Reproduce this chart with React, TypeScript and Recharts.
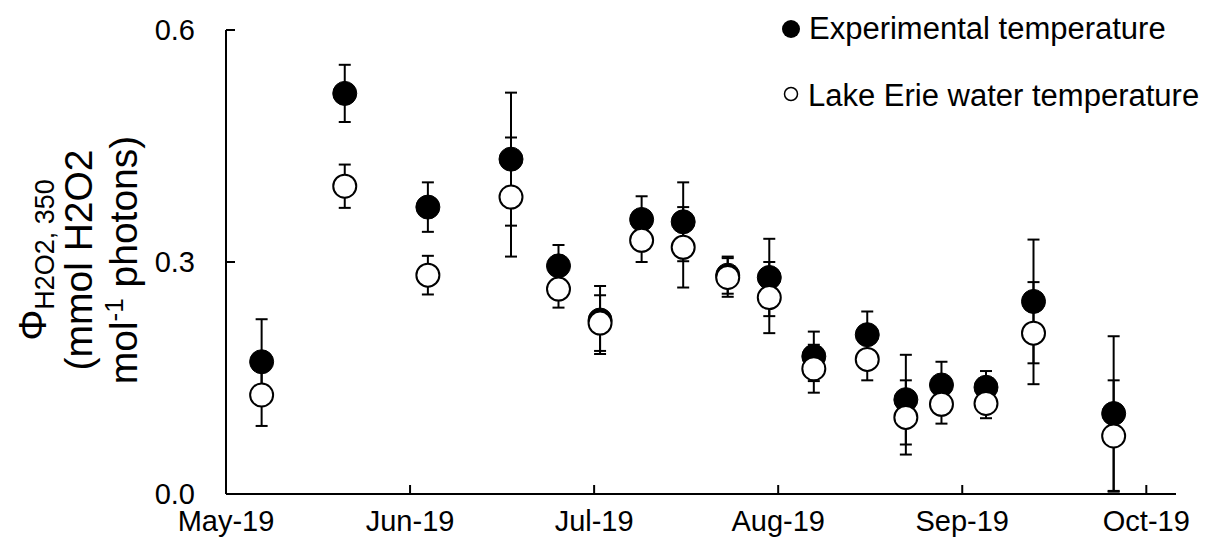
import React from "react";
import { ScatterChart, Scatter, XAxis, YAxis, ErrorBar, Legend } from "recharts";

const FONT = '"Liberation Sans", Arial, sans-serif';

// sampling dates, as days after 1 May 2019
const sampleDays = [6, 20, 34, 48, 56, 63, 70, 77, 84.5, 91.5, 99, 108, 114.5, 120.5, 128, 136, 149.5];

// experimental temperature (filled)
const expValues = [0.171, 0.518, 0.371, 0.433, 0.295, 0.225, 0.355, 0.352, 0.283, 0.28, 0.178, 0.206, 0.122, 0.141, 0.138, 0.249, 0.104];
const expErrors = [0.055, 0.037, 0.032, 0.086, 0.027, 0.044, 0.03, 0.051, 0.024, 0.05, 0.032, 0.03, 0.058, 0.03, 0.021, 0.08, 0.1];

// Lake Erie water temperature (open)
const lakeValues = [0.128, 0.398, 0.283, 0.384, 0.265, 0.221, 0.328, 0.319, 0.28, 0.254, 0.162, 0.174, 0.099, 0.116, 0.117, 0.208, 0.075];
const lakeErrors = [0.04, 0.028, 0.025, 0.077, 0.024, 0.036, 0.028, 0.052, 0.025, 0.046, 0.031, 0.027, 0.048, 0.025, 0.019, 0.066, 0.072];

const xTicks = [0, 31, 62, 93, 124, 155];
const xTickLabels = ["May-19", "Jun-19", "Jul-19", "Aug-19", "Sep-19", "Oct-19"];
const yTicks = [0, 0.3, 0.6];

const seriesNames = ["Experimental temperature", "Lake Erie water temperature"];

const expData = sampleDays.map((d, i) => ({ day: d, value: expValues[i], err: expErrors[i] }));
const lakeData = sampleDays.map((d, i) => ({ day: d, value: lakeValues[i], err: lakeErrors[i] }));

const XTick = (props: any) => {
  const { x, y, payload } = props;
  const idx = xTicks.indexOf(payload.value);
  return (
    <g>
      <line x1={x} x2={x} y1={y} y2={y - 9} stroke="#000" strokeWidth={2} />
      <text x={x} y={y + 37} textAnchor="middle" fontFamily={FONT} fontSize={29} fill="#000">
        {xTickLabels[idx]}
      </text>
    </g>
  );
};

const YTick = (props: any) => {
  const { x, y, payload } = props;
  return (
    <g>
      <line x1={x} x2={x + 9} y1={y} y2={y} stroke="#000" strokeWidth={2} />
      <text x={x - 31} y={y} dy="0.36em" textAnchor="end" fontFamily={FONT} fontSize={29} fill="#000">
        {Number(payload.value).toFixed(1)}
      </text>
    </g>
  );
};

const YLabel = () => {
  const cy = 252;
  return (
    <g fontFamily={FONT} fill="#000">
      <text transform={`translate(38, ${cy}) rotate(-90)`} textAnchor="middle" fontSize={39}>
        Φ<tspan fontSize={27} dy={8}>H2O2, 350</tspan>
      </text>
      <text transform={`translate(84, ${cy}) rotate(-90)`} textAnchor="middle" fontSize={39}>
        (mmol H2O2
      </text>
      <text transform={`translate(129, ${cy}) rotate(-90)`} textAnchor="middle" fontSize={39}>
        mol<tspan fontSize={26} dy={-14}>-1</tspan>
        <tspan dy={14}> photons)</tspan>
      </text>
    </g>
  );
};

const LegendBox = () => (
  <svg width={430} height={115}>
    <circle cx={13} cy={21} r={9} fill="#000" />
    <text x={31} y={31} fontFamily={FONT} fontSize={31} fill="#000">
      {seriesNames[0]}
    </text>
    <circle cx={13} cy={86} r={6.5} fill="#fff" stroke="#000" strokeWidth={1.5} />
    <text x={30} y={98} fontFamily={FONT} fontSize={31} fill="#000">
      {seriesNames[1]}
    </text>
  </svg>
);

const FilledDot = (p: any) => <circle cx={p.cx} cy={p.cy} r={12} fill="#000" stroke="#000" strokeWidth={1} />;
const OpenDot = (p: any) => <circle cx={p.cx} cy={p.cy} r={11.5} fill="#fff" stroke="#000" strokeWidth={2} />;

export default function App() {
  return (
    <div style={{ width: 1195, height: 546, background: "#fff" }}>
      <ScatterChart width={1195} height={546} margin={{ top: 22, right: 27, bottom: 20, left: 168 }}>
        <XAxis
          type="number"
          dataKey="day"
          domain={[0, 160]}
          ticks={xTicks}
          interval={0}
          height={40}
          tickSize={0}
          tickMargin={0}
          tickLine={false}
          axisLine={{ stroke: "#000", strokeWidth: 2 }}
          tick={<XTick />}
        />
        <YAxis
          type="number"
          dataKey="value"
          domain={[0, 0.6]}
          ticks={yTicks}
          interval={0}
          width={50}
          tickSize={0}
          tickMargin={0}
          tickLine={false}
          axisLine={{ stroke: "#000", strokeWidth: 2 }}
          tick={<YTick />}
          label={<YLabel />}
        />
        <Legend
          layout="vertical"
          align="center"
          verticalAlign="middle"
          wrapperStyle={{ top: 0, left: 770, width: 430, height: 115 }}
          content={() => <LegendBox />}
        />
        <Scatter name={seriesNames[0]} data={expData} shape={FilledDot} isAnimationActive={false}>
          <ErrorBar dataKey="err" direction="y" width={6} stroke="#000" strokeWidth={2} />
        </Scatter>
        <Scatter name={seriesNames[1]} data={lakeData} shape={OpenDot} isAnimationActive={false}>
          <ErrorBar dataKey="err" direction="y" width={6} stroke="#000" strokeWidth={2} />
        </Scatter>
      </ScatterChart>
    </div>
  );
}
